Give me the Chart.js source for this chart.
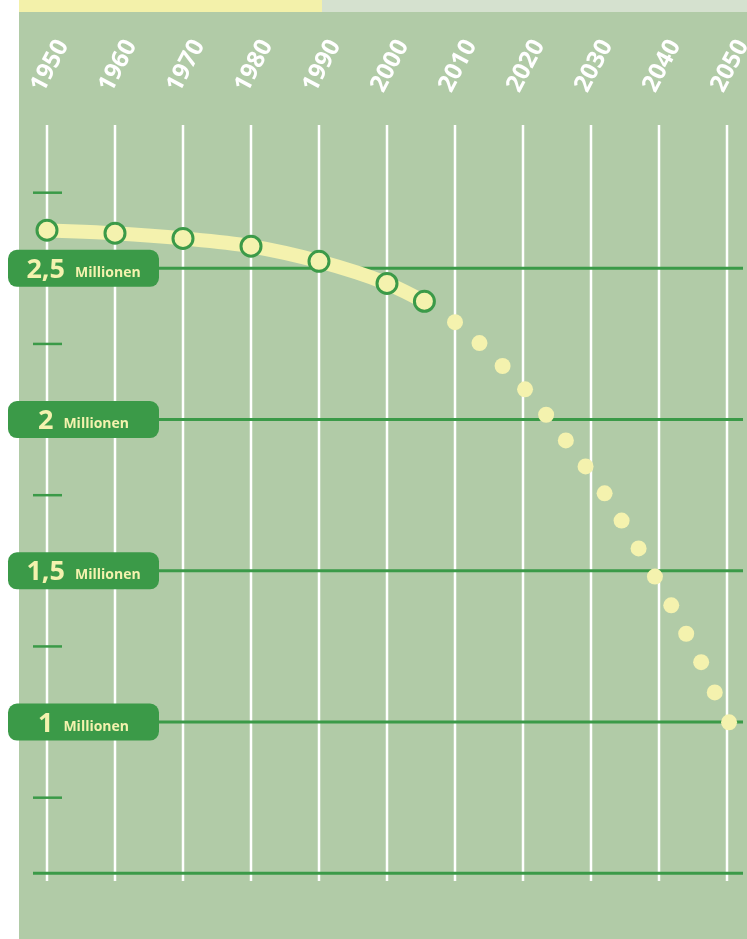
<!DOCTYPE html>
<html>
<head>
<meta charset="utf-8">
<script src="https://cdn.jsdelivr.net/npm/chart.js@4"></script>
<style>
  html, body { margin:0; padding:0; background:#fff; }
  canvas { display:block; }
</style>
</head>
<body>
<canvas id="popChart" width="747" height="939"></canvas>
<script>
// Einwohner in Millionen
const histYears  = [1950, 1960, 1970, 1980, 1990, 2000, 2005.5];
const histValues = [2.626, 2.616, 2.599, 2.573, 2.523, 2.450, 2.391];

const progYears  = [2010, 2013.6, 2017, 2020.3, 2023.4, 2026.3, 2029.2, 2032, 2034.5, 2037, 2039.4, 2041.8, 2044, 2046.2, 2048.2, 2050.3];
const progValues = [2.322, 2.253, 2.177, 2.100, 2.016, 1.931, 1.845, 1.756, 1.666, 1.574, 1.481, 1.386, 1.292, 1.198, 1.098, 0.999];

const decades    = [1950, 1960, 1970, 1980, 1990, 2000, 2010, 2020, 2030, 2040, 2050];
const mainTicks  = [1, 1.5, 2, 2.5];
const mainLabels = ['1', '1,5', '2', '2,5'];
const minorTicks = [0.75, 1.25, 1.75, 2.25, 2.75];
const baseValue  = 0.5;

const BG = '#b1cba7', GREEN = '#3b9a48', YELLOW = '#f4f2ae', FONT = '"Open Sans", "Noto Sans", sans-serif';

const decor = {
  id: 'decor',
  beforeDatasetsDraw(chart) {
    const { ctx, scales: { x, y } } = chart;
    ctx.save();
    // hintergrund
    ctx.fillStyle = '#fff';
    ctx.fillRect(0, 0, 747, 939);
    ctx.fillStyle = BG;
    ctx.fillRect(19, 12, 728, 927);
    ctx.fillStyle = '#f3f1aa';
    ctx.fillRect(19, 0, 303, 12);
    ctx.fillStyle = '#d5e1cf';
    ctx.fillRect(322, 0, 425, 12);

    // senkrechte linien + jahre
    decades.forEach(yr => {
      const px = x.getPixelForValue(yr);
      ctx.strokeStyle = '#fff';
      ctx.lineWidth = 2.5;
      ctx.beginPath();
      ctx.moveTo(px, 125);
      ctx.lineTo(px, 881);
      ctx.stroke();

      ctx.save();
      ctx.translate(px + 3, 66);
      ctx.rotate(-62 * Math.PI / 180);
      ctx.fillStyle = '#fff';
      ctx.font = `bold 24px ${FONT}`;
      ctx.textAlign = 'center';
      ctx.textBaseline = 'middle';
      ctx.fillText(String(yr), 0, 0);
      ctx.restore();
    });

    // kleine striche
    ctx.strokeStyle = GREEN;
    ctx.lineWidth = 2.5;
    minorTicks.forEach(v => {
      const py = y.getPixelForValue(v);
      ctx.beginPath();
      ctx.moveTo(33, py);
      ctx.lineTo(62, py);
      ctx.stroke();
    });

    // grundlinie
    const by = y.getPixelForValue(baseValue);
    ctx.lineWidth = 3;
    ctx.beginPath();
    ctx.moveTo(33, by);
    ctx.lineTo(743, by);
    ctx.stroke();

    // hauptlinien mit beschriftung
    mainTicks.forEach((v, i) => {
      const py = y.getPixelForValue(v);
      ctx.strokeStyle = GREEN;
      ctx.lineWidth = 3;
      ctx.beginPath();
      ctx.moveTo(140, py);
      ctx.lineTo(743, py);
      ctx.stroke();

      ctx.fillStyle = GREEN;
      ctx.beginPath();
      ctx.roundRect(8, py - 18.5, 151, 37, 9);
      ctx.fill();

      ctx.fillStyle = YELLOW;
      ctx.textBaseline = 'alphabetic';
      ctx.textAlign = 'left';
      ctx.font = `bold 27px ${FONT}`;
      const nw = ctx.measureText(mainLabels[i]).width;
      ctx.font = `bold 14px ${FONT}`;
      const mw = ctx.measureText('Millionen').width;
      const gap = 10;
      const start = 83.5 - (nw + gap + mw) / 2;
      ctx.font = `bold 27px ${FONT}`;
      ctx.fillText(mainLabels[i], start, py + 9.5);
      ctx.font = `bold 14px ${FONT}`;
      ctx.fillText('Millionen', start + nw + gap, py + 8.5);
    });
    ctx.restore();
  }
};

new Chart(document.getElementById('popChart'), {
  type: 'line',
  data: {
    datasets: [
      {
        label: 'Prognose',
        data: progYears.map((yr, i) => ({ x: yr, y: progValues[i] })),
        showLine: false,
        pointRadius: 8,
        pointBackgroundColor: YELLOW,
        pointBorderWidth: 0,
        clip: false
      },
      {
        label: 'Bevölkerung',
        data: histYears.map((yr, i) => ({ x: yr, y: histValues[i] })),
        borderColor: YELLOW,
        borderWidth: 14,
        tension: 0.4,
        cubicInterpolationMode: 'monotone',
        pointRadius: 10,
        pointBorderWidth: 3,
        pointBorderColor: GREEN,
        pointBackgroundColor: YELLOW,
        clip: false
      }
    ]
  },
  options: {
    responsive: false,
    animation: false,
    layout: { padding: { left: 47, right: 20, top: 192.7, bottom: 65.7 } },
    plugins: { legend: { display: false }, tooltip: { enabled: false } },
    scales: {
      x: { type: 'linear', min: 1950, max: 2050, display: false },
      y: { min: 0.5, max: 2.75, display: false }
    }
  },
  plugins: [decor]
});
</script>
</body>
</html>
